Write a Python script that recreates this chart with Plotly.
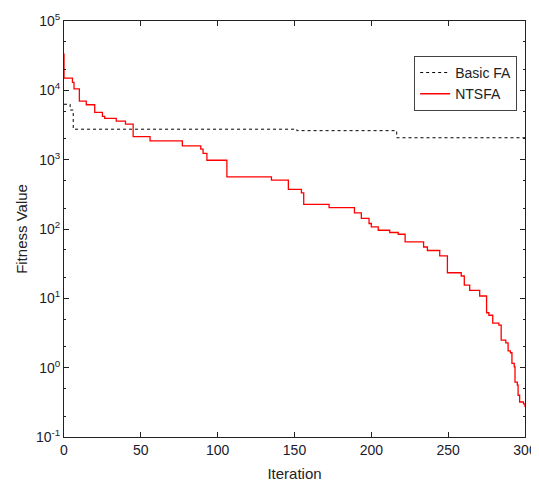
import plotly.graph_objects as go

# Basic FA (step points: iteration where a new best value starts)
fa_iter = [0, 4, 6, 151.5, 216.5, 300]
fa_fit = [6300, 5200, 2750, 2620, 2070, 2070]

# NTSFA
nts_iter = [0, 0, 5.5, 6.5, 10, 14.5, 20, 25, 26.5, 34, 40, 45, 56, 77, 89, 90.5, 93,
            106, 135, 146, 154.5, 156, 172.5, 189, 193.5, 198.5, 200, 204.5, 212,
            217.5, 222, 234, 236.5, 244.5, 249.5, 258.5, 260.5, 264, 270.5, 275,
            276.5, 279, 283, 284.5, 287.5, 289, 290.5, 291.5, 293, 293.5, 295,
            295.5, 296.5, 299, 300]
nts_fit = [34000, 15000, 13000, 10500, 7000, 6200, 4800, 4200, 3950, 3600, 3250, 2150,
           1870, 1580, 1420, 1230, 980, 565, 507, 372, 333, 226, 204, 171, 142, 120,
           107, 96, 89, 84, 65, 55, 49, 41, 23.4, 21, 15.5, 13, 10.8, 6.2, 5.7, 4.4,
           4.1, 2.5, 2.28, 1.75, 1.64, 1.15, 1.03, 0.62, 0.56, 0.40, 0.32, 0.30, 0.27]

# y tick labels
y_tickvals = [0.1, 1, 10, 100, 1000, 10000, 100000]
y_ticktext = ['10<sup>-1</sup>', '10<sup>0</sup>', '10<sup>1</sup>', '10<sup>2</sup>',
              '10<sup>3</sup>', '10<sup>4</sup>', '10<sup>5</sup>']
x_tickvals = [0, 50, 100, 150, 200, 250, 300]

fig = go.Figure()
fig.add_trace(go.Scatter(x=fa_iter, y=fa_fit, mode='lines', name='Basic FA',
                         line=dict(color='black', width=1, dash='3px,3px', shape='hv')))
fig.add_trace(go.Scatter(x=nts_iter, y=nts_fit, mode='lines', name='NTSFA',
                         line=dict(color='#ff0000', width=1.3, shape='hv')))

axis_common = dict(showline=True, linecolor='#222', linewidth=1, mirror='ticks',
                   ticks='inside', ticklen=5, tickcolor='#222', showgrid=False,
                   zeroline=False, automargin=False,
                   tickfont=dict(size=14, color='#1a1a2e'))

fig.update_xaxes(range=[0, 300], tickvals=x_tickvals, title=dict(text='Iteration', standoff=11,
                 font=dict(size=15, color='#222')), **axis_common)
fig.update_yaxes(type='log', range=[-1, 5], tickvals=y_tickvals, ticktext=y_ticktext,
                 title=dict(text='Fitness Value', standoff=4, font=dict(size=15, color='#222')),
                 minor=dict(ticks='inside', ticklen=2, tickcolor='#222', showgrid=False),
                 **axis_common)

# the page body adds an 8px offset, so the figure is 8px smaller than the window
fig.update_layout(
    width=531, height=480,
    margin=dict(l=56, r=14, t=13, b=51),
    paper_bgcolor='white', plot_bgcolor='white',
    font=dict(family='Liberation Sans, Arial, sans-serif', color='#222'),
    legend=dict(x=0.983, y=0.916, xanchor='right', yanchor='top',
                bordercolor='#444', borderwidth=1, bgcolor='white',
                font=dict(size=14)),
)

fig.write_html("out.html")
